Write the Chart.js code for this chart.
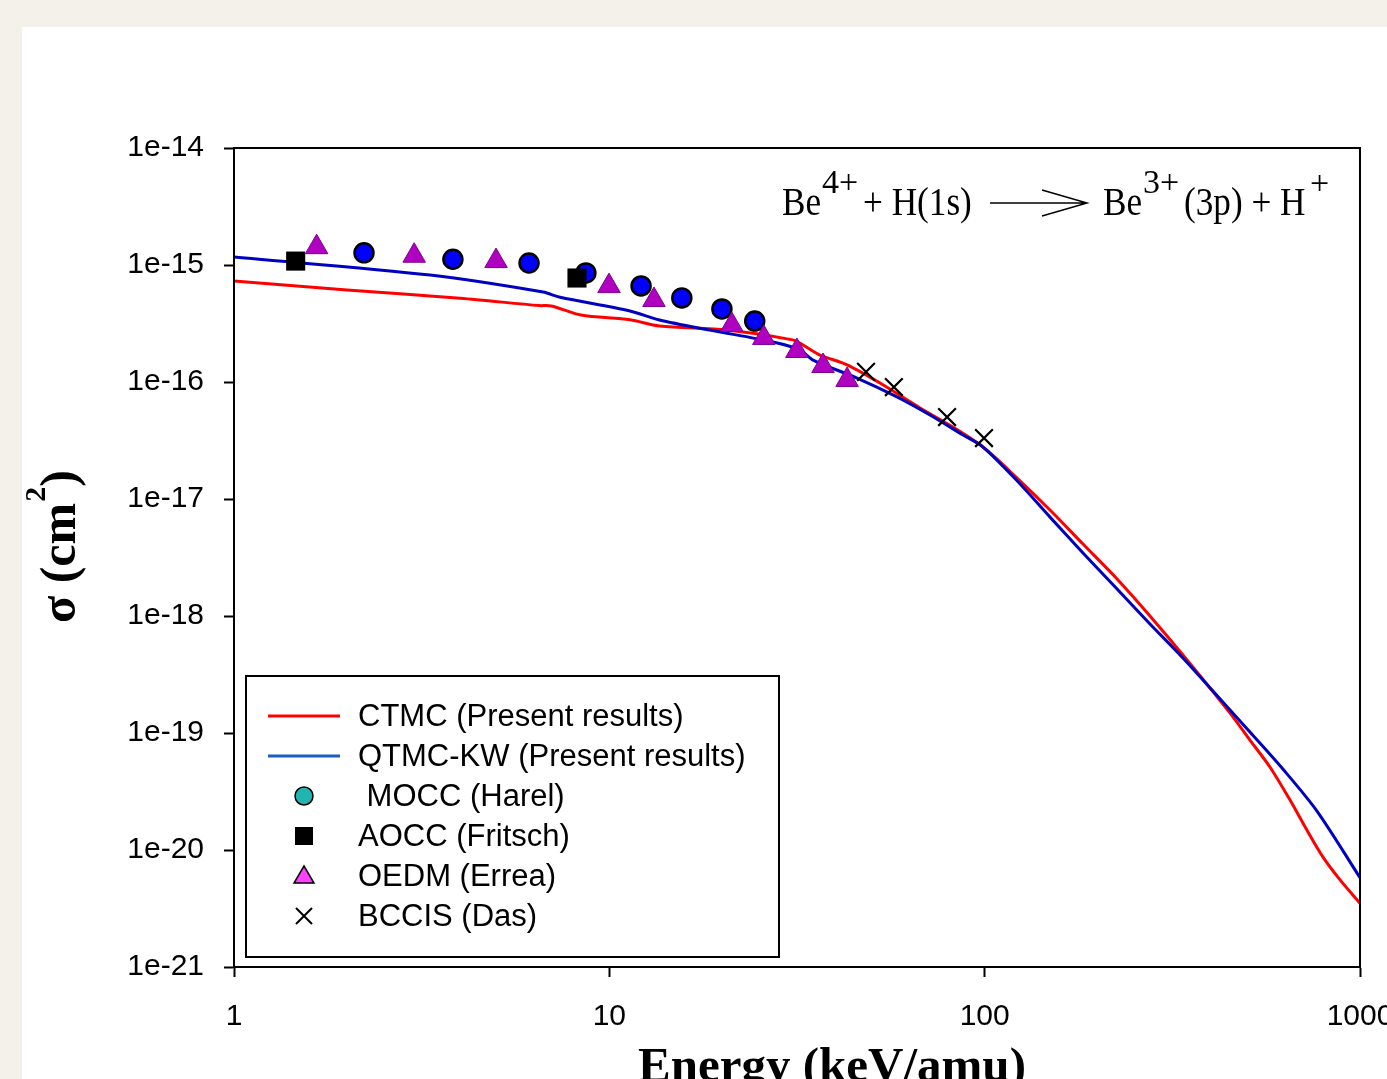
<!DOCTYPE html>
<html>
<head>
<meta charset="utf-8">
<script src="https://cdn.jsdelivr.net/npm/chart.js@4.4.0/dist/chart.umd.min.js"></script>
<style>
  html, body { margin: 0; padding: 0; background: #f3f1ea; overflow: hidden; width: 1387px; height: 1079px; }
  #wrap { position: absolute; left: 22px; top: 27px; width: 1420px; height: 1090px; background: #fff; }
</style>
</head>
<body>
<div id="wrap"><canvas id="chart" width="1420" height="1090"></canvas></div>
<script>
// tick labels
var energyTicks = [1, 10, 100, 1000];
var energyLabels = ['1', '10', '100', '1000'];
var sigmaTicks = [1e-21, 1e-20, 1e-19, 1e-18, 1e-17, 1e-16, 1e-15, 1e-14];
var sigmaLabels = ['1e-21', '1e-20', '1e-19', '1e-18', '1e-17', '1e-16', '1e-15', '1e-14'];

// CTMC (present results)
var ctmcE = [1, 2, 4, 6.5, 7, 8.4, 11.35, 13.6, 20.6, 30.8, 32.8, 36.4, 43.0, 52.6, 67.3, 82.3, 99, 122, 149.3, 182.8, 225.3, 275.7, 337.5, 450.6, 509, 576, 651, 722, 797, 885, 1000];
var ctmcS = [7.3e-16, 6.1e-16, 5.2e-16, 4.5e-16, 4.47e-16, 3.74e-16, 3.4e-16, 3.01e-16, 2.78e-16, 2.29e-16, 2.07e-16, 1.7e-16, 1.4e-16, 9.8e-17, 6.0e-17, 4.12e-17, 2.78e-17, 1.51e-17, 8.05e-18, 4.12e-18, 2.07e-18, 1.0e-18, 4.64e-19, 1.48e-19, 8.7e-20, 5.1e-20, 2.67e-20, 1.48e-20, 8.7e-21, 5.55e-21, 3.5e-21];

// QTMC-KW (present results)
var qtmcE = [1, 3.33, 6.66, 7.39, 11.35, 13.6, 18.5, 27.3, 32.2, 34.9, 45.7, 58.4, 71.5, 87.6, 99, 122, 149.3, 182.8, 225.3, 275.7, 337.5, 450.6, 509, 623, 768, 1000];
var qtmcS = [1.17e-15, 8.2e-16, 5.87e-16, 5.3e-16, 4.05e-16, 3.39e-16, 2.78e-16, 2.2e-16, 1.88e-16, 1.54e-16, 1.08e-16, 7.45e-17, 5.22e-17, 3.52e-17, 2.78e-17, 1.43e-17, 7.0e-18, 3.46e-18, 1.7e-18, 8.55e-19, 4.38e-19, 1.57e-19, 1.02e-19, 4.92e-20, 2.15e-20, 5.8e-21];

// MOCC (Harel)
var moccE = [2.22, 3.83, 6.11, 8.66, 12.15, 15.6, 19.95, 24.4];
var moccS = [1.27e-15, 1.12e-15, 1.04e-15, 8.55e-16, 6.62e-16, 5.23e-16, 4.21e-16, 3.32e-16];

// AOCC (Fritsch)
var aoccE = [1.46, 8.2];
var aoccS = [1.08e-15, 7.74e-16];

// OEDM (Errea)
var oedmE = [1.66, 3.02, 4.99, 9.98, 13.15, 21.2, 25.8, 31.6, 37.1, 43.0];
var oedmS = [1.42e-15, 1.2e-15, 1.08e-15, 6.6e-16, 5.02e-16, 3.07e-16, 2.38e-16, 1.84e-16, 1.37e-16, 1.04e-16];

// BCCIS (Das)
var bccisE = [48.3, 57.3, 79.4, 99.6];
var bccisS = [1.22e-16, 9.06e-17, 5.02e-17, 3.32e-17];

var legendNames = ['CTMC (Present results)', 'QTMC-KW (Present results)', ' MOCC (Harel)', 'AOCC (Fritsch)', 'OEDM (Errea)', 'BCCIS (Das)'];

function pts(xs, ys) {
  return xs.map(function (x, i) { return { x: x, y: ys[i] }; });
}

var serif = '"Liberation Serif", "Times New Roman", Times, serif';
var sans = '"Liberation Sans", Arial, Helvetica, sans-serif';

// frame, legend, titles, reaction label
var extras = {
  id: 'extras',
  afterDraw: function (chart) {
    var c = chart.ctx, a = chart.chartArea;
    c.save();
    c.strokeStyle = '#000';
    c.lineWidth = 2;
    c.strokeRect(a.left, a.top, a.right - a.left, a.bottom - a.top);

    // legend box
    c.lineWidth = 2;
    c.strokeRect(224, 649, 533, 281);
    var rows = [689, 729, 769, 809, 849, 889];
    c.font = '31px ' + sans;
    c.fillStyle = '#000';
    c.textBaseline = 'middle';
    c.textAlign = 'left';
    legendNames.forEach(function (t, i) { c.fillText(t, 336, rows[i] + 1); });
    c.lineWidth = 3;
    c.strokeStyle = '#ff0000';
    c.beginPath(); c.moveTo(246, rows[0]); c.lineTo(318, rows[0]); c.stroke();
    c.strokeStyle = '#1a5fc0';
    c.beginPath(); c.moveTo(246, rows[1]); c.lineTo(318, rows[1]); c.stroke();
    var mx = 282;
    c.lineWidth = 1.5;
    c.strokeStyle = '#000';
    c.fillStyle = '#22b4b0';
    c.beginPath(); c.arc(mx, rows[2], 9, 0, Math.PI * 2); c.fill(); c.stroke();
    c.fillStyle = '#000';
    c.fillRect(mx - 9, rows[3] - 9, 18, 18);
    c.fillStyle = '#ff40ff';
    c.beginPath();
    c.moveTo(mx, rows[4] - 10); c.lineTo(mx + 10, rows[4] + 7); c.lineTo(mx - 10, rows[4] + 7); c.closePath();
    c.fill(); c.stroke();
    c.lineWidth = 2;
    c.beginPath();
    c.moveTo(mx - 8, rows[5] - 8); c.lineTo(mx + 8, rows[5] + 8);
    c.moveTo(mx + 8, rows[5] - 8); c.lineTo(mx - 8, rows[5] + 8);
    c.stroke();

    // x title
    c.fillStyle = '#000';
    c.font = 'bold 49px ' + serif;
    c.textAlign = 'center';
    c.textBaseline = 'alphabetic';
    c.fillText('Energy (keV/amu)', 810, 1054);

    // y title: sigma (cm^2)
    c.save();
    c.translate(53, 596);
    c.rotate(-Math.PI / 2);
    c.textAlign = 'left';
    c.font = 'bold 50px ' + serif;
    var s1 = '\u03c3 (cm';
    c.fillText(s1, 0, 0);
    var w1 = c.measureText(s1).width;
    c.font = 'bold 30px ' + serif;
    c.fillText('2', w1 + 1, -30);
    var w2 = c.measureText('2').width;
    c.font = 'bold 50px ' + serif;
    c.fillText(')', w1 + w2 + 1, 0);
    c.restore();

    // reaction label
    function txt(s, x, y, size, sx) {
      c.save();
      c.translate(x, y);
      c.scale(sx, 1);
      c.font = size + 'px ' + serif;
      c.textAlign = 'left';
      c.fillText(s, 0, 0);
      c.restore();
    }
    txt('Be', 760, 188, 40, 0.88);
    txt('4+', 800, 166, 34, 1);
    txt('+ H(1s)', 841, 188, 40, 0.88);
    txt('Be', 1081, 188, 40, 0.88);
    txt('3+', 1121, 166, 34, 1);
    txt('(3p) + H', 1162, 188, 40, 0.88);
    txt('+', 1288, 167, 34, 1);
    c.strokeStyle = '#000';
    c.lineWidth = 1.5;
    c.beginPath();
    c.moveTo(968, 176); c.lineTo(1065, 176);
    c.moveTo(1020, 163); c.lineTo(1065, 176); c.lineTo(1020, 189);
    c.stroke();
    c.restore();
  }
};

var config = {
  type: 'scatter',
  data: {
    datasets: [
      {
        label: 'BCCIS (Das)',
        data: pts(bccisE, bccisS),
        pointStyle: 'crossRot',
        pointRadius: 12.5,
        borderColor: '#000',
        borderWidth: 2.2,
        showLine: false
      },
      {
        label: 'OEDM (Errea)',
        data: pts(oedmE, oedmS),
        pointStyle: 'triangle',
        pointRadius: 13,
        backgroundColor: '#b000c0',
        borderColor: '#7d0090',
        borderWidth: 1,
        showLine: false
      },
      {
        label: 'AOCC (Fritsch)',
        data: pts(aoccE, aoccS),
        pointStyle: 'rect',
        pointRadius: 13.5,
        backgroundColor: '#000',
        borderColor: '#000',
        borderWidth: 0,
        showLine: false
      },
      {
        label: 'MOCC (Harel)',
        data: pts(moccE, moccS),
        pointStyle: 'circle',
        pointRadius: 9.5,
        backgroundColor: '#0000ff',
        borderColor: '#000',
        borderWidth: 2.5,
        showLine: false
      },
      {
        label: 'QTMC-KW (Present results)',
        data: pts(qtmcE, qtmcS),
        showLine: true,
        borderColor: '#0000c0',
        borderWidth: 3,
        pointRadius: 0,
        tension: 0.3
      },
      {
        label: 'CTMC (Present results)',
        data: pts(ctmcE, ctmcS),
        showLine: true,
        borderColor: '#ff0000',
        borderWidth: 3,
        pointRadius: 0,
        tension: 0.3
      }
    ]
  },
  options: {
    responsive: false,
    animation: false,
    events: [],
    layout: { padding: { left: 0, top: 121, right: 82, bottom: 0 } },
    plugins: {
      legend: { display: false },
      tooltip: { enabled: false }
    },
    scales: {
      x: {
        type: 'logarithmic',
        min: 1,
        max: 1000,
        afterBuildTicks: function (s) {
          s.ticks = energyTicks.map(function (v) { return { value: v }; });
        },
        afterFit: function (s) { s.height = 150; },
        grid: { drawOnChartArea: false, drawTicks: true, tickLength: 10, tickWidth: 2, tickColor: '#000' },
        border: { display: true, color: '#000', width: 2 },
        ticks: {
          autoSkip: false,
          maxRotation: 0,
          padding: 22,
          color: '#000',
          font: { family: sans, size: 30 },
          callback: function (v, i) { return energyLabels[i]; }
        }
      },
      y: {
        type: 'logarithmic',
        min: 1e-21,
        max: 1e-14,
        afterBuildTicks: function (s) {
          s.ticks = sigmaTicks.map(function (v) { return { value: v }; });
        },
        afterFit: function (s) { s.width = 212; },
        grid: { drawOnChartArea: false, drawTicks: true, tickLength: 10, tickWidth: 2, tickColor: '#000' },
        border: { display: true, color: '#000', width: 2 },
        ticks: {
          autoSkip: false,
          padding: 20,
          color: '#000',
          font: { family: sans, size: 30 },
          callback: function (v, i) { return sigmaLabels[i]; }
        }
      }
    }
  },
  plugins: [extras]
};

window.onload = function () {
  var ctx = document.getElementById('chart').getContext('2d');
  window.myChart = new Chart(ctx, config);
};
</script>
</body>
</html>
